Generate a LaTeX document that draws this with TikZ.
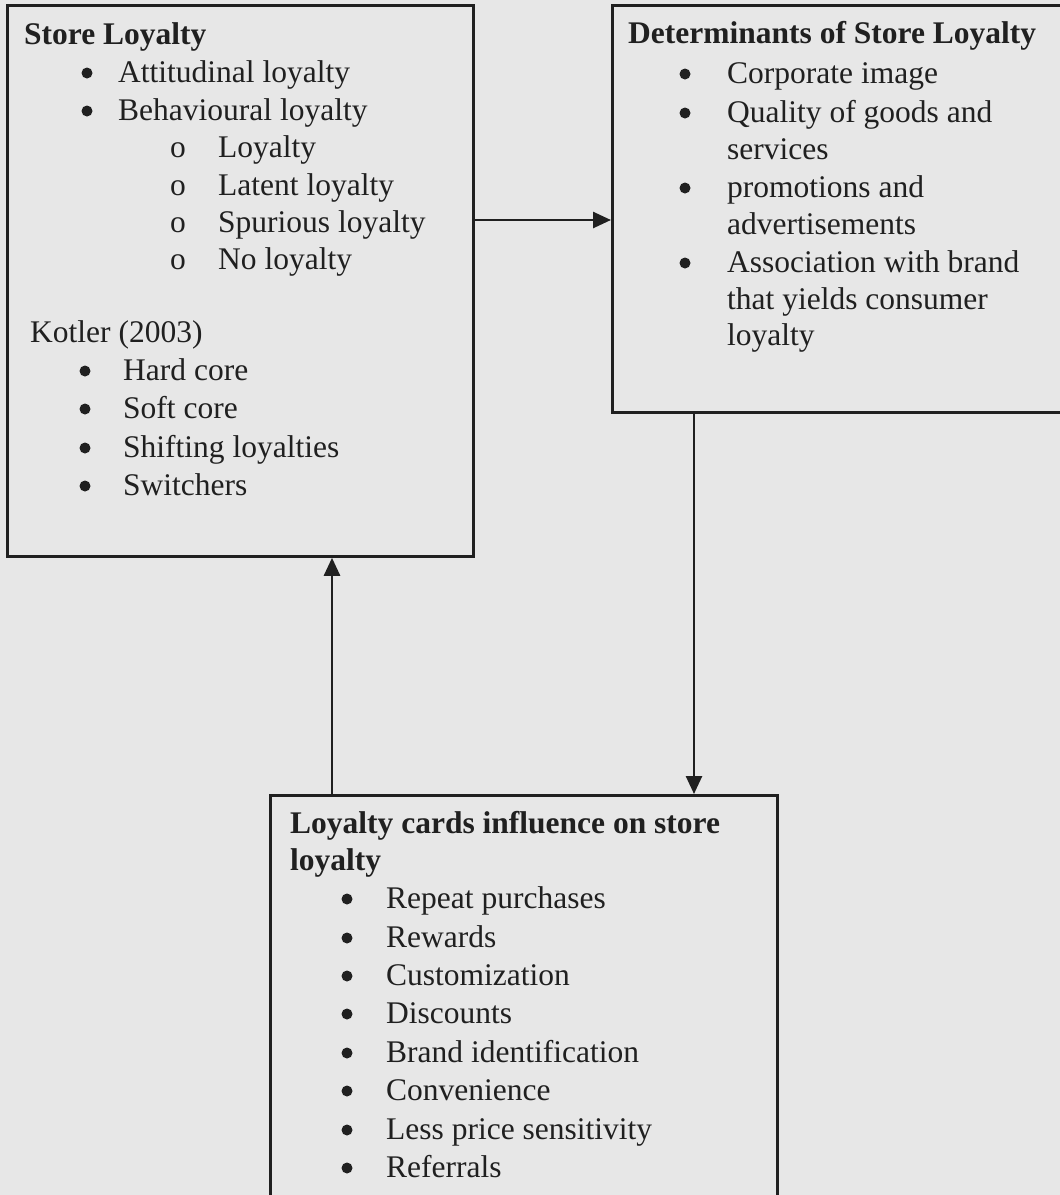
\documentclass[tikz,border=0pt]{standalone}
\usepackage{fontspec}
\setmainfont{Liberation Serif}
\usetikzlibrary{arrows.meta, positioning, calc}

\definecolor{paper}{RGB}{231,231,231}
\definecolor{ink}{RGB}{32,32,32}

\begin{document}
\begin{tikzpicture}[
    x=1pt, y=-1pt,
    font=\fontsize{31.5pt}{37.5pt}\selectfont,
    >= {Triangle[length=18pt, width=16pt]},
    panel/.style={draw=ink, line width=2.8pt, inner sep=0pt, anchor=north west},
    entry/.style={inner sep=0pt, anchor=base west, text=ink},
    ring/.style={inner sep=0pt, anchor=base, text=ink},
    dot/.style={circle, fill=ink, inner sep=0pt, minimum size=11pt},
    flow/.style={->, draw=ink, line width=2.6pt},
    ]

    \clip (0,0) rectangle (1060,1195);
    \fill[paper] (0,0) rectangle (1060,1195);

    % ==========================================
    % Boxes
    % ==========================================
    \node[panel, minimum width=466pt, minimum height=551pt] (storeloyalty) at (6,4) {};
    \node[panel, minimum width=470pt, minimum height=407pt] (determinants) at (611,4) {};
    \node[panel, minimum width=507pt, minimum height=450pt] (cardsinfluence) at (269,794) {};

    % ==========================================
    % Text lines
    % ==========================================
    \foreach \name/\tx/\yy/\txt in {
        sl-head/24/44/{\bfseries Store Loyalty},
        sl-att/118/82/Attitudinal loyalty,
        sl-beh/118/120/Behavioural loyalty,
        sl-loy/218/157.5/Loyalty,
        sl-lat/218/195/Latent loyalty,
        sl-spu/218/232/Spurious loyalty,
        sl-nol/218/269.5/No loyalty,
        sl-kot/30/342/Kotler (2003),
        sl-hard/123/380/Hard core,
        sl-soft/123/418/Soft core,
        sl-shift/123/457/Shifting loyalties,
        sl-switch/123/495/Switchers,
        ds-head/628/43/{\bfseries Determinants of Store Loyalty},
        ds-corp/727/83/Corporate image,
        ds-qual/727/122/Quality of goods and,
        ds-serv/727/159/services,
        ds-promo/727/197/promotions and,
        ds-adv/727/234/advertisements,
        ds-assoc/727/272/Association with brand,
        ds-yield/727/309/that yields consumer,
        ds-loy/727/345/loyalty,
        lc-head/290/833/{\bfseries Loyalty cards influence on store},
        lc-head2/290/870/{\bfseries loyalty},
        lc-rep/386/908/Repeat purchases,
        lc-rew/386/947/Rewards,
        lc-cust/386/985/Customization,
        lc-disc/386/1023/Discounts,
        lc-brand/386/1062/Brand identification,
        lc-conv/386/1100/Convenience,
        lc-less/386/1139/Less price sensitivity,
        lc-ref/386/1177/Referrals}
    {
        \node[entry] (\name) at (\tx,\yy) {\txt};
    }

    % ==========================================
    % Bullet marks
    % ==========================================
    \foreach \name/\bx/\yy in {
        sl-att-b/87/82, sl-beh-b/87/120,
        sl-hard-b/85/380, sl-soft-b/85/418, sl-shift-b/85/457, sl-switch-b/85/495,
        ds-corp-b/685/83, ds-qual-b/685/122, ds-promo-b/685/197, ds-assoc-b/685/272,
        lc-rep-b/347/908, lc-rew-b/347/947, lc-cust-b/347/985, lc-disc-b/347/1023,
        lc-brand-b/347/1062, lc-conv-b/347/1100, lc-less-b/347/1139, lc-ref-b/347/1177}
    {
        \node[dot] (\name) at (\bx,\yy-9) {};
    }

    \foreach \name/\yy in {sl-loy-b/157.5, sl-lat-b/195, sl-spu-b/232, sl-nol-b/269.5}
    {
        \node[ring] (\name) at (178,\yy) {o};
    }

    % ==========================================
    % Arrows
    % ==========================================
    \coordinate (arrowrow) at (0,220);
    \coordinate (downcol) at (694,0);
    \coordinate (upcol) at (332,0);

    \draw[flow] (storeloyalty.east |- arrowrow) -- (determinants.west |- arrowrow);
    \draw[flow] (determinants.south -| downcol) -- (cardsinfluence.north -| downcol);
    \draw[flow] (cardsinfluence.north -| upcol) -- (storeloyalty.south -| upcol);

\end{tikzpicture}
\end{document}
